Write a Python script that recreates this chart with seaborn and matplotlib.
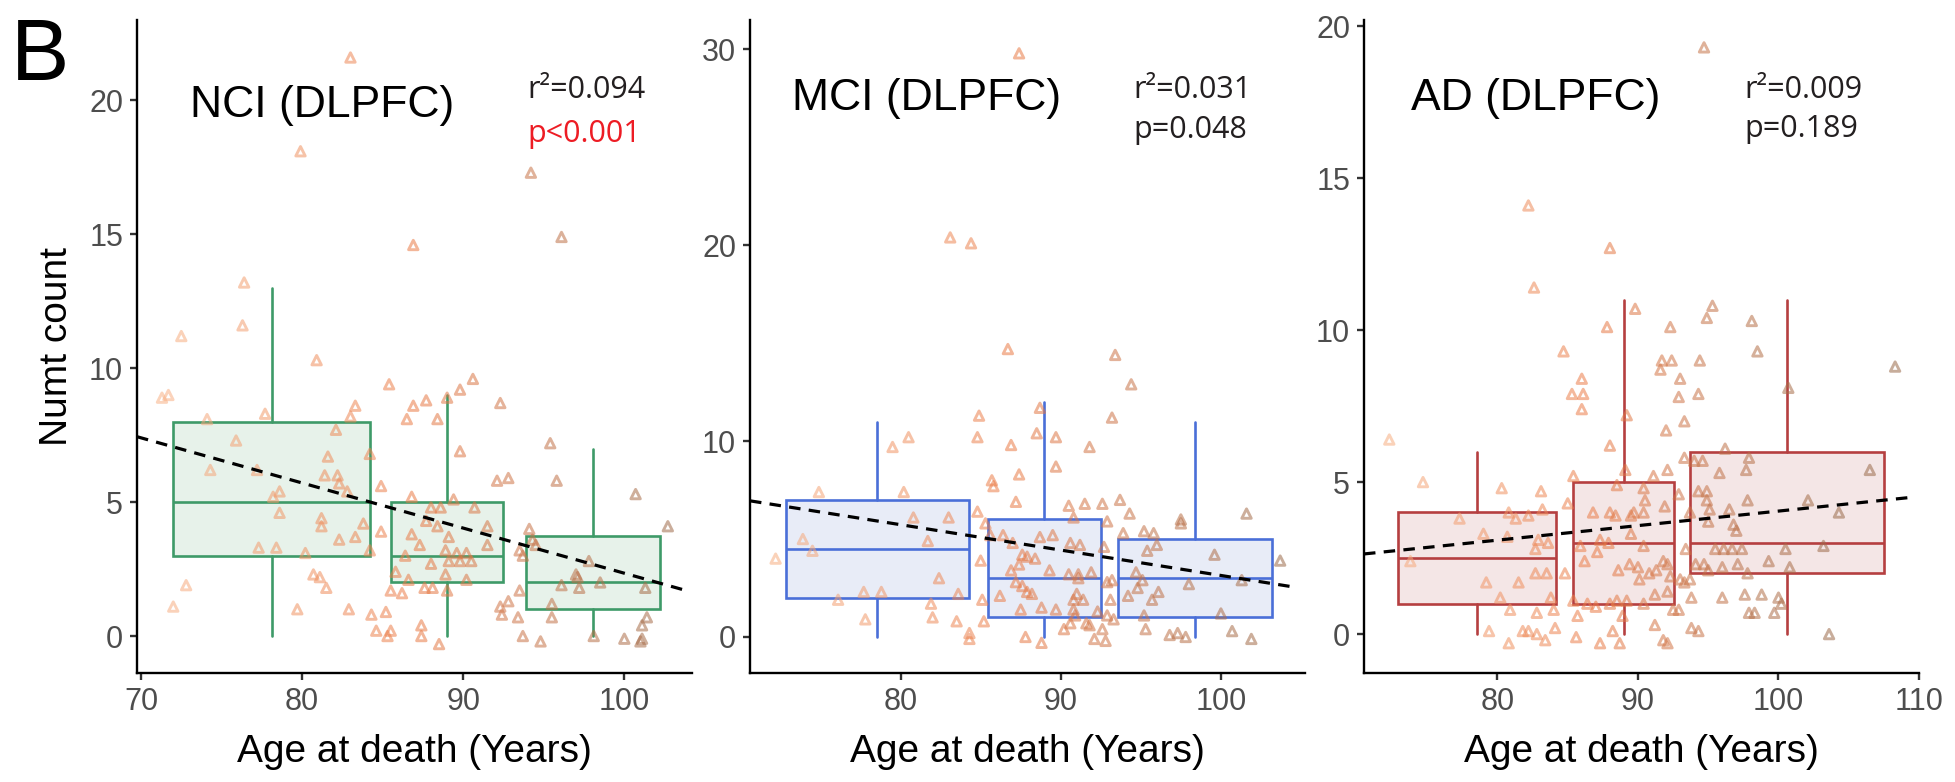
import numpy as np
import pandas as pd
import matplotlib.pyplot as plt
import matplotlib as mpl
import seaborn as sns

sns.set_theme(style="ticks")
plt.rcParams['font.family'] = ['Liberation Sans', 'DejaVu Sans']

# --- NCI (DLPFC) points ---
nci_age = [83.0, 79.9, 94.2, 96.1, 86.9, 76.4, 76.3, 72.5, 80.9, 85.4, 90.6, 89.8, 71.7, 71.3,
           86.9, 87.7, 89.0, 92.3, 83.3, 77.7, 74.1, 83.0, 86.5, 88.4, 82.1, 75.9, 95.4, 89.8,
           84.2, 81.6, 74.3, 77.2, 81.4, 82.2, 92.1, 92.8, 95.8, 82.3, 84.9, 82.8, 78.6, 78.2,
           86.8, 89.4, 100.7, 88.0, 88.6, 90.7, 78.6, 81.2, 81.2, 83.8, 87.7, 88.4, 91.5, 94.1,
           102.7, 84.9, 86.8, 82.3, 83.3, 89.1, 94.3, 87.3, 91.5, 94.5, 77.3, 78.4, 84.2, 80.2,
           88.9, 89.6, 93.5, 86.4, 90.2, 93.7, 89.1, 89.8, 90.5, 97.8, 88.0, 85.8, 80.7, 81.1,
           88.9, 97.0, 97.1, 86.6, 90.2, 98.5, 81.5, 96.1, 101.3, 97.2, 85.5, 86.2, 87.6, 88.1,
           89.0, 93.5, 72.8, 92.8, 92.3, 72.0, 82.9, 95.5, 79.7, 85.2, 84.3, 92.4, 93.4, 101.4,
           95.5, 87.4, 101.1, 84.6, 85.5, 85.3, 87.4, 93.7, 98.1, 100.0, 101.0, 101.1, 88.5, 94.8]
nci_count = [21.6, 18.1, 17.3, 14.9, 14.6, 13.2, 11.6, 11.2, 10.3, 9.4, 9.6, 9.2, 9.0, 8.9,
             8.6, 8.8, 8.9, 8.7, 8.6, 8.3, 8.1, 8.2, 8.1, 8.1, 7.7, 7.3, 7.2, 6.9,
             6.8, 6.7, 6.2, 6.2, 6.0, 6.0, 5.8, 5.9, 5.8, 5.7, 5.6, 5.4, 5.4, 5.2,
             5.2, 5.1, 5.3, 4.8, 4.8, 4.8, 4.6, 4.4, 4.1, 4.2, 4.3, 4.1, 4.1, 4.0,
             4.1, 3.9, 3.8, 3.6, 3.7, 3.7, 3.6, 3.4, 3.4, 3.4, 3.3, 3.3, 3.2, 3.1,
             3.2, 3.1, 3.2, 3.0, 3.1, 3.0, 2.8, 2.8, 2.8, 2.8, 2.7, 2.4, 2.3, 2.2,
             2.3, 2.3, 2.2, 2.1, 2.1, 2.0, 1.8, 1.9, 1.8, 1.8, 1.7, 1.6, 1.8, 1.8,
             1.7, 1.7, 1.9, 1.3, 1.1, 1.1, 1.0, 1.2, 1.0, 0.9, 0.8, 0.8, 0.7, 0.7,
             0.7, 0.4, 0.4, 0.2, 0.2, 0.0, 0.0, 0.0, 0.0, -0.1, -0.2, -0.1, -0.3, -0.2]

# --- MCI (DLPFC) ---
mci_age = [87.4, 83.1, 84.4, 86.7, 93.4, 94.4,
           93.2, 84.9, 88.7, 84.8, 80.5, 88.5, 89.7, 91.8, 79.5, 86.9, 89.7, 87.4, 85.7, 85.8,
           74.9, 80.2, 87.2, 93.7, 84.8, 90.5, 91.5, 92.6, 94.3, 101.6, 80.8, 83.0, 90.8, 97.5,
           97.5, 85.3, 92.9, 73.9, 85.6, 86.4, 88.7, 89.5, 93.9, 95.2, 95.8, 81.7, 87.0, 90.6,
           91.2, 92.7, 96.0, 74.5, 95.4, 99.6, 87.6, 87.9, 88.4, 72.2, 85.0, 103.7, 87.4, 86.9,
           89.3, 90.5, 91.1, 91.9, 94.7, 82.4, 91.1, 95.1, 101.3, 87.2, 92.9, 93.2, 98.0, 87.6,
           94.8, 77.7, 78.8, 87.9, 88.2, 83.6, 86.2, 91.0, 96.1, 94.2, 76.1, 85.1, 90.8, 91.4,
           93.1, 95.7, 81.9, 87.5, 88.8, 89.7, 90.8, 92.3, 100.0, 95.2, 82.0, 90.9, 92.9, 93.3,
           77.8, 83.5, 85.2, 91.6, 91.8, 90.6, 95.3, 90.2, 92.6, 100.7, 84.3, 84.3, 87.8, 96.8,
           97.3, 97.8, 92.1, 92.8, 88.8, 101.9]
mci_count = [29.8, 20.4, 20.1, 14.7, 14.4, 12.9,
             11.2, 11.3, 11.7, 10.2, 10.2, 10.4, 10.2, 9.7, 9.7, 9.8, 8.7, 8.3, 8.0, 7.7,
             7.4, 7.4, 6.9, 7.0, 6.4, 6.7, 6.8, 6.8, 6.3, 6.3, 6.1, 6.1, 6.1, 6.0,
             5.8, 5.8, 5.9, 5.0, 5.2, 5.2, 5.1, 5.2, 5.3, 5.4, 5.3, 4.9, 4.8, 4.8,
             4.7, 4.6, 4.7, 4.4, 4.4, 4.2, 4.2, 4.1, 4.0, 4.0, 3.9, 3.9, 3.7, 3.4,
             3.4, 3.2, 3.2, 3.3, 3.3, 3.0, 3.0, 2.9, 2.9, 2.8, 2.8, 2.9, 2.7, 2.6,
             2.5, 2.3, 2.3, 2.3, 2.2, 2.2, 2.1, 2.2, 2.3, 2.1, 1.9, 1.9, 1.9, 1.9,
             1.9, 1.9, 1.7, 1.4, 1.5, 1.4, 1.4, 1.3, 1.2, 1.1, 1.0, 1.1, 1.1, 0.9,
             0.9, 0.8, 0.8, 0.7, 0.6, 0.7, 0.4, 0.4, 0.4, 0.3, 0.2, -0.1, 0.0, 0.1,
             0.2, 0.0, -0.1, -0.2, -0.3, -0.1]

# --- AD (DLPFC) ---
ad_age = [94.7, 82.2, 88.0, 82.6, 89.8, 95.3, 94.9, 87.8, 92.3, 98.1, 98.5, 84.7, 91.7, 92.4,
          94.4, 108.3, 91.6, 93.0, 86.0, 100.7, 85.3, 86.1, 94.3, 92.9,
          86.0, 89.2, 93.3, 92.0, 72.3, 88.0, 96.2, 93.3, 94.0, 94.6, 97.9, 92.1, 95.8, 97.7,
          89.1, 106.5, 91.1, 85.4, 74.7, 80.3, 88.5, 90.4, 83.1, 92.9, 94.3, 94.9, 90.5, 94.9,
          97.8, 102.1, 85.0, 83.2, 91.9, 95.1, 96.5, 86.8, 88.0, 88.4, 89.7, 90.4, 104.3, 80.8,
          81.3, 82.2, 77.3, 89.5, 93.7, 95.0, 96.8, 97.0, 79.0, 80.7, 89.5, 87.3, 82.9, 83.6,
          87.9, 90.4, 82.7, 85.9, 93.4, 95.5, 96.1, 96.7, 97.4, 100.5, 103.2, 87.1, 91.8, 86.2,
          73.8, 99.3, 94.1, 94.7, 88.6, 89.4, 90.0, 91.3, 92.1, 95.0, 96.0, 97.1, 100.8, 82.7,
          83.5, 84.8, 90.8, 97.8, 90.1, 92.3, 79.2, 81.5, 93.0, 93.7, 93.3, 91.2, 92.1, 83.8,
          80.2, 93.8, 96.0, 97.6, 98.8, 100.0, 85.4, 86.4, 87.0, 88.0, 88.5, 89.2, 90.4, 100.2,
          92.5, 80.9, 82.8, 84.0, 97.9, 98.3, 99.7, 85.7, 88.9, 92.9, 84.1, 91.2, 93.8, 94.3,
          79.4, 81.8, 82.2, 82.8, 88.2, 103.6, 85.6, 83.4, 88.7, 87.3, 91.8, 92.1, 80.8]
ad_count = [19.3, 14.1, 12.7, 11.4, 10.7, 10.8, 10.4, 10.1, 10.1, 10.3, 9.3, 9.3, 9.0, 9.0,
            9.0, 8.8, 8.7, 8.4, 8.4, 8.1, 7.9, 7.9, 7.9, 7.8,
            7.4, 7.2, 7.0, 6.7, 6.4, 6.2, 6.1, 5.8, 5.7, 5.7, 5.8, 5.4, 5.3, 5.4,
            5.4, 5.4, 5.2, 5.2, 5.0, 4.8, 4.9, 4.8, 4.7, 4.6, 4.7, 4.7, 4.4, 4.4,
            4.4, 4.4, 4.3, 4.1, 4.2, 4.1, 4.1, 4.0, 4.0, 3.9, 4.0, 4.0, 4.0, 4.0,
            3.8, 3.9, 3.8, 3.9, 4.0, 3.7, 3.6, 3.4, 3.3, 3.2, 3.3, 3.1, 3.1, 3.0,
            3.0, 2.9, 2.8, 2.9, 2.8, 2.8, 2.8, 2.8, 2.8, 2.8, 2.9, 2.7, 2.4, 2.4,
            2.4, 2.4, 2.3, 2.3, 2.1, 2.3, 2.2, 2.1, 2.3, 2.1, 2.2, 2.3, 2.2, 2.0,
            2.0, 2.0, 2.0, 2.0, 1.8, 1.9, 1.7, 1.7, 1.8, 1.8, 1.7, 1.3, 1.4, 1.2,
            1.2, 1.2, 1.2, 1.3, 1.3, 1.2, 1.1, 1.0, 0.9, 1.0, 1.1, 1.1, 1.0, 1.0,
            0.8, 0.8, 0.7, 0.8, 0.7, 0.7, 0.7, 0.6, 0.6, 0.8, 0.2, 0.3, 0.2, 0.1,
            0.1, 0.1, 0.1, 0.0, 0.1, 0.0, -0.1, -0.2, -0.3, -0.3, -0.2, -0.3, -0.3]

# --- boxplot summaries per age bin ---
nci_box_pos = [78.1, 89.0, 98.05]
nci_box_width = [12.25, 6.94, 8.3]
nci_q1 = [3, 2, 1]
nci_med = [5, 3, 2]
nci_q3 = [8, 5, 3.75]
nci_whishi = [13, 9, 7]

mci_box_pos = [78.56, 88.97, 98.38]
mci_box_width = [11.46, 7.06, 9.64]
mci_q1 = [2, 1, 1]
mci_med = [4.5, 3, 3]
mci_q3 = [7, 6, 5]
mci_whishi = [11, 12, 11]

ad_box_pos = [78.55, 88.99, 100.6]
ad_box_width = [11.23, 7.17, 13.8]
ad_q1 = [1, 1, 2]
ad_med = [2.5, 3, 3]
ad_q3 = [4, 5, 6]
ad_whishi = [6, 11, 11]

whislo = [0, 0, 0]

# --- linear fit lines (intercept, slope, x range) ---
nci_fit = (19.195, -0.1685, 69.75, 103.7)
mci_fit = (16.10, -0.1296, 70.6, 104.4)
ad_fit = (-0.734, 0.0478, 70.5, 109.5)

titles = ["NCI (DLPFC)", "MCI (DLPFC)", "AD (DLPFC)"]
r2_text = ["r\u00b2=0.094", "r\u00b2=0.031", "r\u00b2=0.009"]
p_text = ["p<0.001", "p=0.048", "p=0.189"]
p_color = ["#ED1C24", "#231F20", "#231F20"]

panels = [
    dict(age=nci_age, count=nci_count, pos=nci_box_pos, width=nci_box_width, q1=nci_q1,
         med=nci_med, q3=nci_q3, hi=nci_whishi, fit=nci_fit, edge="#3E9A68", fill="#E7F2EA",
         xlim=(69.75, 104.2), ylim=(-1.38, 23.0), xticks=[70, 80, 90, 100], yticks=[0, 5, 10, 15, 20],
         left=137, title_x=0.095, title_y=0.8515, stat_x=0.703, r2_y=0.8805, p_y=0.813),
    dict(age=mci_age, count=mci_count, pos=mci_box_pos, width=mci_box_width, q1=mci_q1,
         med=mci_med, q3=mci_q3, hi=mci_whishi, fit=mci_fit, edge="#4A6FD8", fill="#E8ECF7",
         xlim=(70.6, 105.25), ylim=(-1.84, 31.5), xticks=[80, 90, 100], yticks=[0, 10, 20, 30],
         left=750, title_x=0.076, title_y=0.862, stat_x=0.691, r2_y=0.8805, p_y=0.819),
    dict(age=ad_age, count=ad_count, pos=ad_box_pos, width=ad_box_width, q1=ad_q1,
         med=ad_med, q3=ad_q3, hi=ad_whishi, fit=ad_fit, edge="#B53F40", fill="#F4E6E6",
         xlim=(70.5, 110), ylim=(-1.28, 20.2), xticks=[80, 90, 100, 110], yticks=[0, 5, 10, 15, 20],
         left=1364, title_x=0.085, title_y=0.862, stat_x=0.685, r2_y=0.8805, p_y=0.821),
]

W, H = 1956, 782
fig = plt.figure(figsize=(W / 100, H / 100), dpi=100)
pt_cmap = mpl.colors.LinearSegmentedColormap.from_list(
    "age", [(0.0, "#F9B58A"), (0.5, "#EA7A45"), (1.0, "#9A6A4A")])

for i, p in enumerate(panels):
    ax = fig.add_axes([p["left"] / W, 1 - 673 / H, 555 / W, 653 / H])

    stats = [dict(med=p["med"][k], q1=p["q1"][k], q3=p["q3"][k], whislo=whislo[k],
                  whishi=p["hi"][k], fliers=[]) for k in range(3)]
    line_kw = dict(color=p["edge"], linewidth=1.9)
    ax.bxp(stats, positions=p["pos"], widths=p["width"], patch_artist=True,
           showcaps=False, showfliers=False, manage_ticks=False,
           boxprops=dict(facecolor=p["fill"], edgecolor=p["edge"], linewidth=1.9),
           medianprops=line_kw, whiskerprops=line_kw, zorder=1)

    df = pd.DataFrame({"age": p["age"], "count": p["count"]})
    sns.scatterplot(data=df, x="age", y="count", hue="age", palette=pt_cmap,
                    hue_norm=(70, 104), marker="^", s=46, alpha=0.55, linewidth=2.1,
                    legend=False, ax=ax, zorder=2)
    pts = ax.collections[-1]
    cols = pts.get_facecolors()
    pts.set_edgecolors(cols)
    pts.set_facecolors("none")

    b0, b1, xa, xb = p["fit"]
    fx = np.array([xa, xb])
    sns.lineplot(x=fx, y=b0 + b1 * fx, color="black", linestyle=(0, (3.6, 2.6)),
                 linewidth=2.3, ax=ax, zorder=3)

    ax.set_xlim(*p["xlim"])
    ax.set_ylim(*p["ylim"])
    ax.set_xticks(p["xticks"])
    ax.set_yticks(p["yticks"])
    sns.despine(ax=ax)
    for s in ["left", "bottom"]:
        ax.spines[s].set_linewidth(1.7)
        ax.spines[s].set_color("black")
    ax.tick_params(axis="both", length=5, width=1.7, color="#333333",
                   labelsize=22, labelcolor="#4D4D4D", pad=5)
    ax.set_xlabel("Age at death (Years)", fontsize=28, color="black", labelpad=12)
    if i == 0:
        ax.set_ylabel("Numt count", fontsize=28, color="black", labelpad=10)
    else:
        ax.set_ylabel("")

    ax.text(p["title_x"], p["title_y"], titles[i], transform=ax.transAxes,
            fontsize=32, ha="left", va="baseline", color="black")
    ax.text(p["stat_x"], p["r2_y"], r2_text[i], transform=ax.transAxes, family="Open Sans",
            fontsize=22, ha="left", va="baseline", color="#231F20")
    ax.text(p["stat_x"], p["p_y"], p_text[i], transform=ax.transAxes, family="Open Sans",
            fontsize=22, ha="left", va="baseline", color=p_color[i])

fig.text(11 / W, 1 - 80 / H, "B", fontsize=63, ha="left", va="baseline", color="black")

fig.savefig("out.png", dpi=100, facecolor="white")
